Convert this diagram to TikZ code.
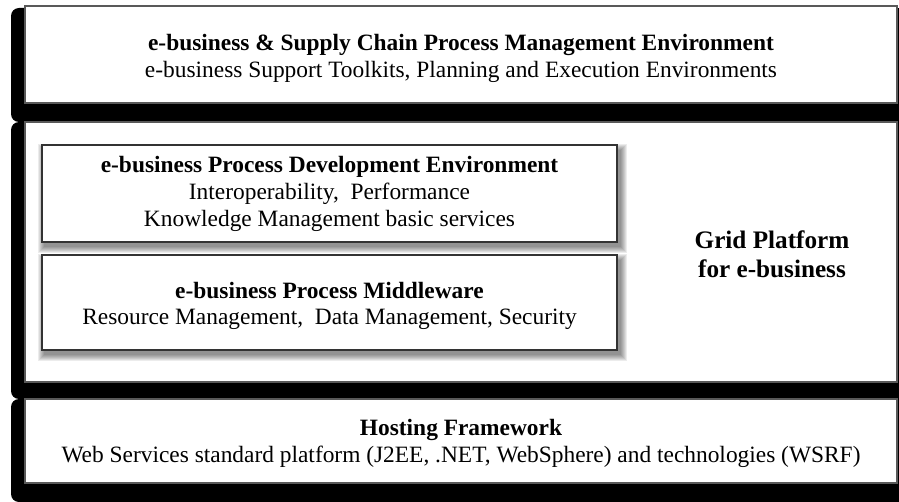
\documentclass[tikz,border=0pt]{standalone}
\usepackage{fontspec}
\setmainfont{Liberation Serif}

\tikzset{
  layer/.style={fill=black, rounded corners=4pt},
  panel/.style={fill=white, draw=black!65, line width=0.7pt},
  inbox/.style={draw=black!80, line width=0.9pt, fill=white, minimum width=287.5pt,
    align=center, inner sep=0pt},
  blur/.style={fill=black, opacity=0.075},
  txt/.style={align=center, font=\fontsize{11.7}{13.5}\selectfont},
  bigtxt/.style={align=center, font=\bfseries\fontsize{12.6}{14.5}\selectfont},
}

\begin{document}
\begin{tikzpicture}[x=0.5pt,y=-0.5pt]
\useasboundingbox (0,0) rectangle (899,502);
% shadow bands
\fill[layer] (11,8) rectangle (906,122);
\fill[layer] (11,122) rectangle (906,399);
\fill[layer] (11,399) rectangle (906,502);
% white layers
\draw[panel] (25,6) rectangle (897,103);
\draw[panel] (25,122) rectangle (897,382);
\draw[panel] (25,399) rectangle (897,483);
% top layer
\node[txt] (mgmt) at (461,58.5) {\textbf{e-business \& Supply Chain Process Management Environment}\\
  e-business Support Toolkits, Planning and Execution Environments};
% soft shadows of the inner boxes
\foreach \t/\b in {145/242, 255/350}
  \foreach \e in {0,...,6}
    \fill[blur] (44-\e,\t+5-\e) rectangle (621+\e,\b+5+\e);
% grid platform
\node[inbox, minimum height=48.5pt, font=\fontsize{11.7}{13.5}\selectfont] (devenv) at (329.5,193.5)
  {\textbf{e-business Process Development Environment}\\
  Interoperability,\ \ Performance\\
  Knowledge Management basic services};
\node[inbox, minimum height=47.5pt] (mdware) at (329.5,302.5) {};
\node[txt, font=\fontsize{11.7}{13}\selectfont] (mdtext) at (mdware.center) [yshift=-1.5pt]
  {\textbf{e-business Process Middleware}\\
  Resource Management,\ \ Data Management, Security};
\node[bigtxt] (grid) at (772,254.5) {Grid Platform\\for e-business};
% hosting layer
\node[txt] (host) at (461,443.5) {\textbf{Hosting Framework}\\
  Web Services standard platform (J2EE, .NET, WebSphere) and technologies (WSRF)};
\end{tikzpicture}
\end{document}
